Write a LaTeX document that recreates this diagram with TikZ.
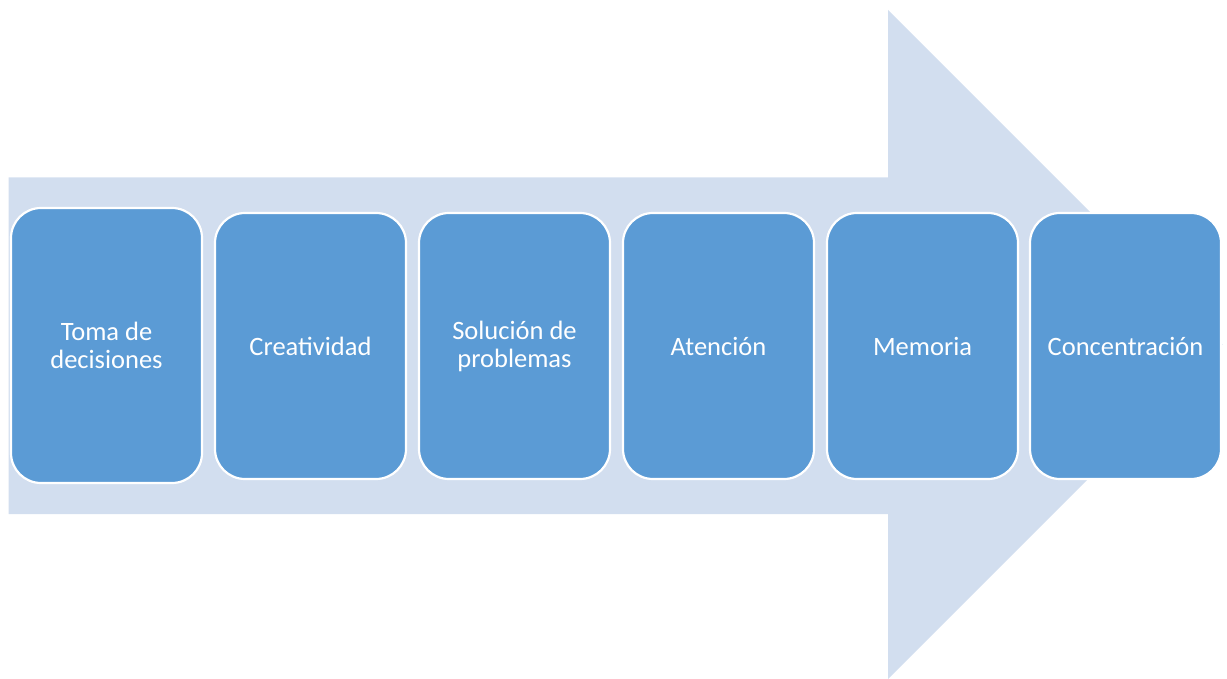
\documentclass[tikz,border=0pt]{standalone}
\usepackage{fontspec}
\setmainfont{Carlito}
\definecolor{arrowc}{HTML}{D2DEEF}
\definecolor{boxc}{HTML}{5B9BD5}
\begin{document}
\begin{tikzpicture}[x=1pt,y=-1pt,
  stepbox/.style={draw=white, line width=2.2pt, fill=boxc, rounded corners=30pt,
    minimum width=191pt, minimum height=266pt, inner sep=0pt,
    text=white, align=center, font=\fontsize{26.5}{28}\selectfont}]
\useasboundingbox (0,0) rectangle (1227,679);
\fill[arrowc] (8.5,177.5) -- (888,177.5) -- (888,10) -- (1222.5,344.5) -- (888,679) -- (888,514) -- (8.5,514) -- cycle;
\node[stepbox, minimum height=275pt] (b1) at (106.5,345.5) {Toma de\\decisiones};
\node[stepbox] (b2) at (310.5,346) {Creatividad};
\node[stepbox] (b3) at (514.5,346) {Solución de\\problemas};
\node[stepbox] (b4) at (718.5,346) {Atención};
\node[stepbox] (b5) at (922.5,346) {Memoria};
\node[stepbox] (b6) at (1125.5,346) {Concentración};
\end{tikzpicture}
\end{document}
